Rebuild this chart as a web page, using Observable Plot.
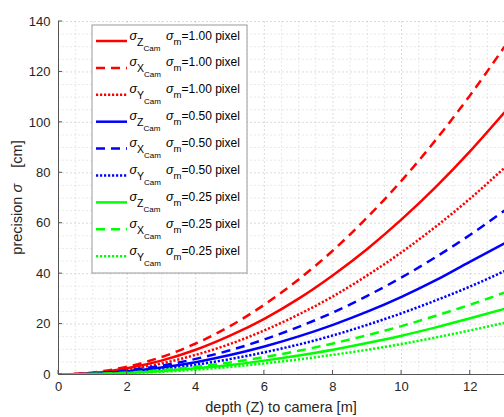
<!DOCTYPE html>
<html>
<head>
<meta charset="utf-8">
<script src="https://cdn.jsdelivr.net/npm/d3@7"></script>
<script src="https://cdn.jsdelivr.net/npm/@observablehq/plot@0.6"></script>
<style>
  html, body { margin: 0; padding: 0; background: #fff; }
  #chart { width: 504px; height: 417px; overflow: hidden; }
</style>
</head>
<body>
<div id="chart"></div>
<script>
// ---- data ----
const depth = [0, 1, 2, 3, 4, 5, 6, 7, 8, 9, 10, 11, 12, 13];

const sigmaZ_100 = [0, 0.6, 2.5, 5.5, 9.8, 15.4, 22.1, 30.1, 39.4, 49.8, 61.5, 74.4, 88.6, 104];
const sigmaX_100 = [0, 0.8, 3.1, 6.9, 12.3, 19.2, 27.7, 37.7, 49.2, 62.3, 76.9, 93.1, 110.8, 130];
const sigmaY_100 = [0, 0.5, 1.9, 4.4, 7.8, 12.1, 17.5, 23.8, 31.0, 39.3, 48.5, 58.7, 69.8, 82];

const sigmaZ_050 = [0, 0.3, 1.3, 2.8, 4.9, 7.7, 11.1, 15.1, 19.7, 24.9, 30.8, 37.4, 44.8, 52];
const sigmaX_050 = [0, 0.4, 1.6, 3.5, 6.2, 9.6, 13.9, 18.9, 24.6, 31.2, 38.5, 46.6, 55.4, 65];
const sigmaY_050 = [0, 0.25, 1.0, 2.2, 3.9, 6.1, 8.8, 11.9, 15.5, 19.7, 24.3, 29.4, 34.9, 41];

const sigmaZ_025 = [0, 0.15, 0.6, 1.4, 2.5, 3.8, 5.5, 7.5, 9.8, 12.5, 15.4, 18.7, 22.3, 26];
const sigmaX_025 = [0, 0.2, 0.8, 1.7, 3.1, 4.8, 6.9, 9.4, 12.3, 15.6, 19.2, 23.3, 27.7, 32.5];
const sigmaY_025 = [0, 0.12, 0.5, 1.1, 1.9, 3.0, 4.4, 6.0, 7.8, 9.8, 12.1, 14.7, 17.5, 20.5];

const axisNames = ["Z", "X", "Y"];
const sigmaM = ["1.00", "0.50", "0.25"];
const xTicks = [0, 2, 4, 6, 8, 10, 12];
const yTicks = [0, 20, 40, 60, 80, 100, 120, 140];
const xTitle = "depth (Z) to camera [m]";
const yTitleA = "precision ";
const yTitleSigma = "\u03c3";
const yTitleB = "    [cm]";

// ---- styling ----
const colors = ["#ff0000", "#0000ff", "#00ff00"];
const dashes = [null, "9,6", "2.2,1.8"];
const valuesBy = [
  [sigmaZ_100, sigmaX_100, sigmaY_100],
  [sigmaZ_050, sigmaX_050, sigmaY_050],
  [sigmaZ_025, sigmaX_025, sigmaY_025]
];

const series = [];
valuesBy.forEach((group, gi) => group.forEach((vals, ai) => {
  series.push({
    axis: axisNames[ai], m: sigmaM[gi], color: colors[gi], dash: dashes[ai],
    rows: depth.map((d, i) => ({depth: d, value: vals[i]}))
  });
}));

const minorX = d3.range(0, 13.01, 0.5).filter(v => !xTicks.includes(v));
const minorY = d3.range(0, 140.01, 5).filter(v => !yTicks.includes(v));

const font = "'Liberation Sans', Arial, Helvetica, sans-serif";
const textColor = "#262626";

const chart = Plot.plot({
  width: 504,
  height: 417,
  marginLeft: 58,
  marginRight: 0,
  marginTop: 21,
  marginBottom: 43,
  style: {fontFamily: font, fontSize: "13px", color: textColor, background: "#fff", overflow: "hidden"},
  x: {domain: [0, 13]},
  y: {domain: [0, 140]},
  marks: [
    Plot.gridX(minorX, {stroke: "#000", strokeOpacity: 0.09, strokeDasharray: "2,2"}),
    Plot.gridY(minorY, {stroke: "#000", strokeOpacity: 0.09, strokeDasharray: "2,2"}),
    Plot.gridX(xTicks, {stroke: "#000", strokeOpacity: 0.14, strokeDasharray: "2,2"}),
    Plot.gridY(yTicks, {stroke: "#000", strokeOpacity: 0.14, strokeDasharray: "2,2"}),
    Plot.axisX({ticks: xTicks, tickSize: 0, tickPadding: 7, label: null, fontSize: 13}),
    Plot.axisY({ticks: yTicks, tickSize: 0, tickPadding: 8, label: null, fontSize: 13}),
    ...series.map(s => Plot.line(s.rows, {
      x: "depth", y: "value", stroke: s.color, strokeWidth: 2.5,
      strokeDasharray: s.dash, strokeLinecap: "butt", strokeLinejoin: "miter",
      curve: "monotone-x", clip: true
    })),
    Plot.ruleX([0], {stroke: "#555"}),
    Plot.ruleY([0], {stroke: "#555"})
  ]
});

document.getElementById("chart").appendChild(chart);

const svg = d3.select(chart);
const sx = chart.scale("x"), sy = chart.scale("y");
const x0 = sx.apply(0), y0 = sy.apply(0);

// inward tick marks
const tg = svg.append("g").attr("stroke", "#555").attr("stroke-width", 1);
xTicks.forEach(t => tg.append("line")
  .attr("x1", sx.apply(t)).attr("x2", sx.apply(t)).attr("y1", y0).attr("y2", y0 - 4));
yTicks.forEach(t => tg.append("line")
  .attr("x1", x0).attr("x2", x0 + 4).attr("y1", sy.apply(t)).attr("y2", sy.apply(t)));

// axis titles
svg.append("text")
  .attr("x", (x0 + 504) / 2).attr("y", 412)
  .attr("text-anchor", "middle").attr("fill", textColor)
  .attr("font-family", font).attr("font-size", 14.5)
  .text(xTitle);
const yt = svg.append("text")
  .attr("transform", `translate(22,${(sy.apply(0) + sy.apply(140)) / 2}) rotate(-90)`)
  .attr("text-anchor", "middle").attr("fill", textColor)
  .attr("font-family", font).attr("font-size", 14.5)
  .style("white-space", "pre");
yt.append("tspan").text(yTitleA);
yt.append("tspan").attr("font-style", "italic").text(yTitleSigma);
yt.append("tspan").text(yTitleB);

// legend
const lg = svg.append("g").attr("font-family", font).attr("fill", "#000").attr("text-anchor", "start");
lg.append("rect").attr("x", 92).attr("y", 25).attr("width", 155).attr("height", 248)
  .attr("fill", "#fff").attr("stroke", "#9a9a9a").attr("stroke-width", 1);
series.forEach((s, i) => {
  const ly = 41 + i * 26.9;
  lg.append("line").attr("x1", 96).attr("x2", 127).attr("y1", ly).attr("y2", ly)
    .attr("stroke", s.color).attr("stroke-width", 2.5)
    .attr("stroke-dasharray", s.dash);
  const t1 = lg.append("text").attr("x", 129.5).attr("y", ly - 1.5).attr("font-size", 12.5);
  t1.append("tspan").attr("font-style", "italic").text("\u03c3");
  t1.append("tspan").attr("dy", 6).attr("font-size", 10.5).text(s.axis);
  t1.append("tspan").attr("dy", 5).attr("font-size", 8).text("Cam");
  const t2 = lg.append("text").attr("x", 166).attr("y", ly - 1.5).attr("font-size", 12);
  t2.append("tspan").attr("font-style", "italic").attr("font-size", 12.5).text("\u03c3");
  t2.append("tspan").attr("dy", 5).attr("font-size", 9.5).text("m");
  t2.append("tspan").attr("dy", -5).text("=" + s.m + " pixel");
});
</script>
</body>
</html>
